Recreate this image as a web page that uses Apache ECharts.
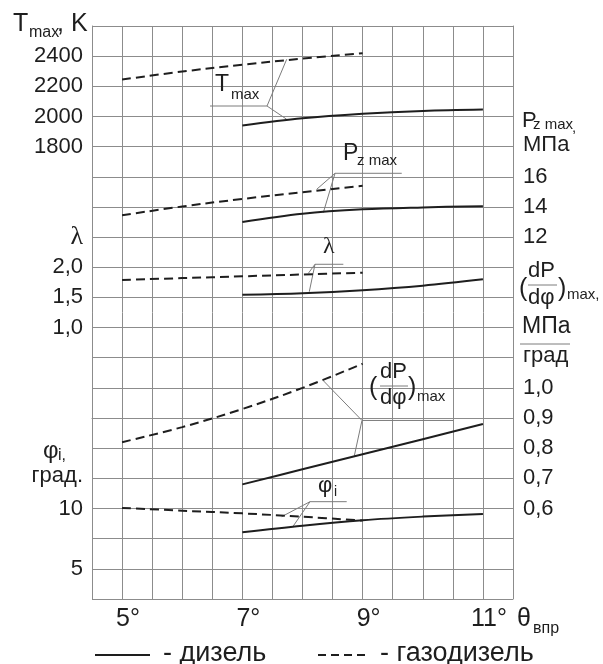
<!DOCTYPE html>
<html><head><meta charset="utf-8">
<script src="https://cdn.jsdelivr.net/npm/echarts@6/dist/echarts.min.js"></script>
<style>html,body{margin:0;padding:0;background:#fff}#c{width:603px;height:664px}</style>
</head><body><div id="c"></div>
<script>
const FONT = "'Liberation Sans', Arial, sans-serif";
const SERIF = "'Liberation Serif', 'Times New Roman', serif";
const INK = '#1e1e1e';
const GRIDC = '#8c8c8c';
const LEAD = '#7c7c7c';

// injection advance angle θвпр, degrees
const gasX = [5, 6, 7, 8, 9];
const dieselX = [7, 8, 9, 10, 11];
// Tmax, K
const tmaxGas = [2245, 2298, 2343, 2384, 2420];
const tmaxDiesel = [1940, 1988, 2018, 2037, 2046];
// Pz max, MPa
const pzGas = [13.45, 14.03, 14.53, 14.98, 15.4];
const pzDiesel = [13.0, 13.55, 13.84, 13.97, 14.05];
// λ
const lambdaGas = [1.79, 1.82, 1.85, 1.88, 1.91];
const lambdaDiesel = [1.545, 1.57, 1.62, 1.695, 1.80];
// (dP/dφ)max, MPa/deg
const dpGas = [0.82, 0.87, 0.93, 1.0, 1.08];
const dpDiesel = [0.68, 0.73, 0.78, 0.83, 0.88];
// φi, deg
const phiGas = [10.05, 9.82, 9.6, 9.32, 9.0];
const phiDiesel = [8.03, 8.58, 9.03, 9.33, 9.55];

// tick labels
const xTicks = [5, 7, 9, 11];
const tTicks = [2400, 2200, 2000, 1800];
const lambdaTicks = [2.0, 1.5, 1.0];
const phiTicks = [10, 5];
const pzTicks = [16, 14, 12];
const dpTicks = [1.0, 0.9, 0.8, 0.7, 0.6];

// leader lines (θ, grid row from top)
const leaders = [
  [[6.462, 2.653], [7.410, 2.653], [7.737, 1.104]],
  [[7.410, 2.653], [7.737, 3.093]],
  [[9.650, 4.884], [8.541, 4.884], [8.236, 5.415]],
  [[8.541, 4.884], [8.346, 6.190]],
  [[8.679, 7.901], [8.208, 7.901], [8.097, 8.2]],
  [[8.208, 7.901], [8.113, 8.81]],
  [[10.508, 13.08], [8.989, 13.08], [8.346, 11.761]],
  [[8.989, 13.08], [8.861, 14.257]],
  [[8.735, 15.773], [8.125, 15.773], [7.654, 16.27]],
  [[8.125, 15.773], [7.847, 16.578]]
];

const near = (arr, v) => arr.some(a => Math.abs(a - v) < 1e-6);
const comma = v => v.toFixed(1).replace('.', ',');
const lblBase = {fontSize: 22, color: INK, fontFamily: FONT};

const chart = echarts.init(document.getElementById('c'), null, {renderer: 'canvas'});

function pairs(xs, ys) { return xs.map((x, i) => [x, ys[i]]); }
function curve(xs, ys, yi, dashed) {
  return {
    type: 'line', yAxisIndex: yi, data: pairs(xs, ys), smooth: 0.35,
    symbol: 'none', silent: true,
    lineStyle: {color: INK, width: 2, type: dashed ? [9, 5] : 'solid'}, z: 5
  };
}

const series = [
  curve(gasX, tmaxGas, 0, true), curve(dieselX, tmaxDiesel, 0, false),
  curve(gasX, pzGas, 3, true), curve(dieselX, pzDiesel, 3, false),
  curve(gasX, lambdaGas, 1, true), curve(dieselX, lambdaDiesel, 1, false),
  curve(gasX, dpGas, 4, true), curve(dieselX, dpDiesel, 4, false),
  curve(gasX, phiGas, 2, true), curve(dieselX, phiDiesel, 2, false)
];
leaders.forEach(l => series.push({
  type: 'line', yAxisIndex: 5, data: l, symbol: 'none', silent: true,
  lineStyle: {color: LEAD, width: 1}, z: 4
}));

function yAx(pos, min, max, interval, fmt, extra) {
  return Object.assign({
    type: 'value', position: pos, min, max, interval,
    splitLine: {show: false}, axisLine: {show: false}, axisTick: {show: false},
    axisLabel: Object.assign({margin: pos === 'left' ? 9 : 10, formatter: fmt}, lblBase)
  }, extra || {});
}

chart.setOption({
  animation: false,
  backgroundColor: '#fff',
  grid: {left: 92, top: 26, width: 421, height: 573, containLabel: false},
  xAxis: {
    type: 'value', min: 4.5, max: 11.5, interval: 0.5,
    splitLine: {show: true, lineStyle: {color: GRIDC, width: 1}},
    axisLine: {show: true, lineStyle: {color: GRIDC, width: 1}},
    axisTick: {show: false},
    axisLabel: {margin: 8, fontSize: 25, color: INK, fontFamily: FONT, padding: [0, 0, 0, 12],
      formatter: v => near(xTicks, v) ? Math.round(v) + '°' : ''}
  },
  yAxis: [
    yAx('left', -1200, 2600, 200, v => near(tTicks, v) ? String(Math.round(v)) : '',
      {splitLine: {show: true, lineStyle: {color: GRIDC, width: 1}}, axisLine: {show: true, lineStyle: {color: GRIDC, width: 1}}}),
    yAx('left', -3.5, 6, 0.5, v => near(lambdaTicks, v) ? comma(v) : ''),
    yAx('left', 2.5, 50, 2.5, v => near(phiTicks, v) ? String(Math.round(v)) : ''),
    yAx('right', -12, 26, 2, v => near(pzTicks, v) ? String(Math.round(v)) : '',
      {axisLine: {show: true, lineStyle: {color: GRIDC, width: 1}}}),
    yAx('right', 0.3, 2.2, 0.1, v => near(dpTicks, v) ? comma(v) : ''),
    {type: 'value', show: false, inverse: true, min: 0, max: 19, interval: 1}
  ],
  series
});

function T(x, y, text, size, opts) {
  opts = opts || {};
  return {type: 'text', x, y, silent: true, z: 10, style: {
    text, fontSize: size, fontFamily: opts.family || FONT, fill: INK,
    align: opts.align || 'left', verticalAlign: 'middle'}};
}
function L(x1, y1, x2, y2, opts) {
  opts = opts || {};
  return {type: 'line', silent: true, z: 10, shape: {x1, y1, x2, y2},
    style: {stroke: opts.color || INK, lineWidth: opts.w || 1, lineDash: opts.dash || null}};
}

const g = [];
// left titles
g.push(T(13, 24.5, 'T', 25), T(29, 32.5, 'max', 16), T(57, 24.5, ', K', 25));
g.push(T(83, 237, 'λ', 26, {align: 'right', family: SERIF}));
g.push(T(43, 451, 'φ', 24), T(58, 456, 'i,', 16));
g.push(T(83, 476, 'град.', 22, {align: 'right'}));
// right titles
g.push(T(522, 120.5, 'P', 22), T(533, 125, 'z max', 15), T(572, 128, ',', 15));
g.push(T(523, 145, 'МПа', 22));
g.push(T(519, 289, '(', 25), T(528, 271, 'dP', 22), L(528, 285, 557, 285, {color: LEAD}),
  T(528, 298, 'dφ', 22), T(558, 289, ')', 25), T(567, 294.5, 'max,', 15));
g.push(T(522, 326.5, 'МПа', 23), L(520, 344, 570, 344, {color: LEAD}), T(523, 355.5, 'град', 22));
// x title
g.push(T(517, 619, 'θ', 25), T(533, 628.5, 'впр', 16));
// in-plot labels
g.push(T(215, 85, 'T', 23), T(231, 94.5, 'max', 15));
g.push(T(343, 153.5, 'P', 23), T(357, 160.5, 'z max', 15));
g.push(T(323, 246.5, 'λ', 24, {family: SERIF}));
g.push(T(369, 388.5, '(', 25), T(380, 371.5, 'dP', 22), L(380, 386, 408, 386, {color: LEAD}),
  T(380, 398, 'dφ', 22), T(408, 388.5, ')', 25), T(417, 397, 'max', 15));
g.push(T(318, 485.5, 'φ', 22), T(334, 492, 'i', 14));
// legend
g.push(L(95, 655, 150, 655, {w: 2}), T(163, 654, '- дизель', 27));
g.push(L(318, 655, 370, 655, {w: 2, dash: [8, 5]}), T(380, 654, '- газодизель', 27));

chart.setOption({graphic: g});
</script>
</body></html>
